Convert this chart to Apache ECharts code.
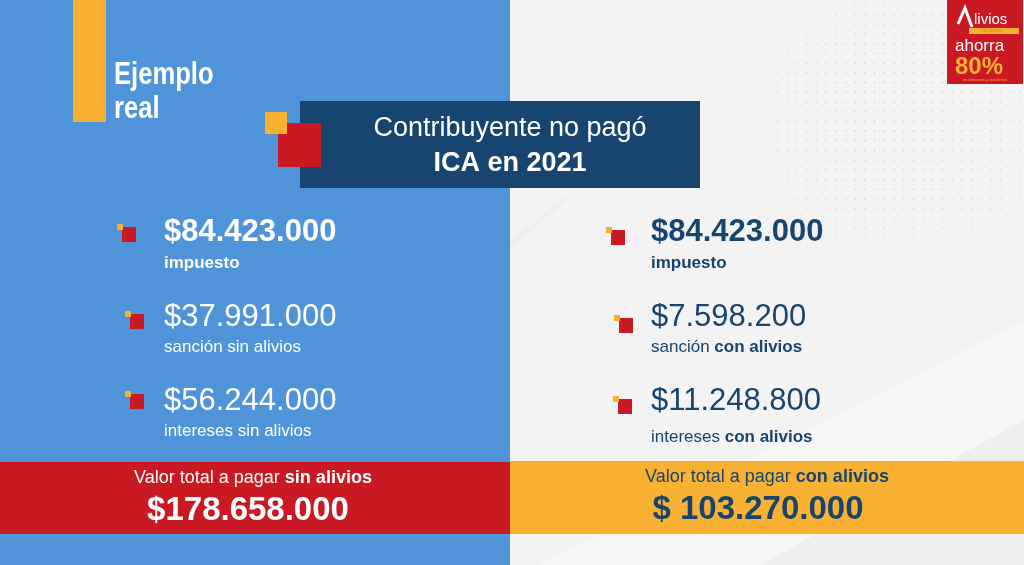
<!DOCTYPE html>
<html>
<head>
<meta charset="utf-8">
<style>html,body{margin:0;padding:0;background:#f2f2f2}#main{width:1024px;height:565px}</style>
<script src="https://cdn.jsdelivr.net/npm/echarts@6/dist/echarts.min.js"></script>
</head>
<body>
<div id="main"></div>
<script>
// textos y valores
var leftAmounts = ['$84.423.000', '$37.991.000', '$56.244.000']
var leftLabels = ['impuesto', 'sanción sin alivios', 'intereses sin alivios']
var rightAmounts = ['$84.423.000', '$7.598.200', '$11.248.800']
var rightPlain = ['', 'sanción ', 'intereses ']
var rightBold = ['impuesto', 'con alivios', 'con alivios']
var totals = ['$178.658.000', '$ 103.270.000']
var totalPlain = 'Valor total a pagar '
var totalBold = ['sin alivios', 'con alivios']
var titleLines = ['Contribuyente no pagó', 'ICA en 2021']
var sideTitle = ['Ejemplo', 'real']
var logoTexts = ['livios', 'tributarios', 'ahorra', '80%', 'en intereses y sanciones']

var BLUE = '#4f94d8'
var NAVY = '#17456f'
var RED = '#c91a24'
var YELLOW = '#f8b133'
var FONT = '"Liberation Sans", Arial, sans-serif'

function rect (x, y, w, h, fill, z) {
  return { type: 'rect', shape: { x: x, y: y, width: w, height: h }, style: { fill: fill }, z: z || 1 }
}
function text (str, x, y, size, fill, bold, align, opts) {
  var el = {
    type: 'text',
    x: x,
    y: y,
    z: 5,
    style: {
      text: str,
      fill: fill,
      font: (bold ? 'bold ' : '') + size + 'px ' + FONT,
      textAlign: align || 'left',
      textVerticalAlign: 'middle'
    }
  }
  return Object.assign(el, opts || {})
}
// dos tramos de texto con distinto peso, centrados o no
function mixed (plain, bold, x, y, size, fill, align, scaleX) {
  return {
    type: 'text',
    x: x,
    y: y,
    z: 5,
    scaleX: scaleX || 1,
    style: {
      text: (plain ? '{a|' + plain + '}' : '') + '{b|' + bold + '}',
      textAlign: align || 'left',
      textVerticalAlign: 'middle',
      rich: {
        a: { font: size + 'px ' + FONT, fill: fill },
        b: { font: 'bold ' + size + 'px ' + FONT, fill: fill }
      }
    }
  }
}
function bullet (x, y) {
  return [rect(x + 5, y + 3, 14, 15, RED, 3), rect(x, y, 6, 6, YELLOW, 4)]
}

var els = []

// fondos
els.push(rect(0, 0, 510, 565, BLUE))
els.push(rect(510, 0, 514, 565, '#f3f3f3'))

// pliegues del fondo derecho
els.push({ type: 'polygon', shape: { points: [[510, 250], [580, 188], [578, 188], [510, 240]] }, style: { fill: '#ebebeb', opacity: 0.6 }, z: 1 })
els.push({ type: 'polygon', shape: { points: [[540, 565], [1024, 320], [1024, 420], [760, 565]] }, style: { fill: '#f7f7f7' }, z: 1 })
els.push({ type: 'polygon', shape: { points: [[760, 565], [1024, 420], [1024, 565]] }, style: { fill: '#efefef' }, z: 1 })

// trama de puntos
for (var px = 700; px < 1024; px += 9.7) {
  for (var py = 5; py < 330; py += 9.7) {
    var dx = (px - 900) / 220
    var dy = (py - 120) / 190
    var a = 0.9 - (dx * dx + dy * dy)
    if (a > 0.05) {
      els.push({ type: 'circle', shape: { cx: px, cy: py, r: 1 }, style: { fill: '#cfcfcf', opacity: a * 0.8 }, z: 1, silent: true })
    }
  }
}

// barra lateral y titulo
els.push(rect(73, 0, 33, 122, YELLOW, 2))
els.push(text(sideTitle[0], 114, 75, 32, '#fff', true, 'left', { scaleX: 0.8 }))
els.push(text(sideTitle[1], 114, 109, 32, '#fff', true, 'left', { scaleX: 0.8 }))

// caja central
els.push(rect(300, 101, 400, 87, NAVY, 2))
els.push(rect(278, 123, 43, 44, RED, 3))
els.push(rect(265, 112, 22, 22, YELLOW, 4))
els.push(text(titleLines[0], 510, 129, 27, '#fff', false, 'center'))
els.push(text(titleLines[1], 510, 164, 27, '#fff', true, 'center'))

// columna izquierda
var leftBullets = [[117, 224], [125, 311], [125, 391]]
var amountY = [232, 317, 401]
var leftLabelY = [263, 347, 431]
leftAmounts.forEach(function (v, i) {
  els.push(text(v, 164, amountY[i], 31, '#fff', i === 0))
  els.push(text(leftLabels[i], 164, leftLabelY[i], 17, '#fff', i === 0))
  els = els.concat(bullet(leftBullets[i][0], leftBullets[i][1]))
})

// columna derecha
var rightBullets = [[606, 227], [614, 315], [613, 396]]
var rightLabelY = [263, 347, 437]
rightAmounts.forEach(function (v, i) {
  els.push(text(v, 651, amountY[i], 31, NAVY, i === 0))
  els.push(mixed(rightPlain[i], rightBold[i], 651, rightLabelY[i], 17, NAVY))
  els = els.concat(bullet(rightBullets[i][0], rightBullets[i][1]))
})

// franjas de total
els.push(rect(0, 462, 510, 72, RED, 2))
els.push(rect(510, 461, 514, 73, YELLOW, 2))
els.push(mixed(totalPlain, totalBold[0], 253, 478, 18, '#fff', 'center'))
els.push(mixed(totalPlain, totalBold[1], 767, 477, 18, NAVY, 'center'))
els.push(text(totals[0], 248, 511, 33, '#fff', true, 'center'))
els.push(text(totals[1], 758, 510, 33, NAVY, true, 'center'))

// sello superior derecho
els.push(rect(947, 0, 76, 84, RED, 3))
els.push({ type: 'polyline', shape: { points: [[958, 24], [965, 8], [972, 27]] }, style: { stroke: '#fff', lineWidth: 3, fill: 'none' }, z: 5 })
els.push(text(logoTexts[0], 974, 20, 15, '#fff'))
els.push(rect(969, 28, 50, 6, YELLOW, 4))
els.push(text(logoTexts[1], 981, 31, 5, '#c98a20'))
els.push(text(logoTexts[2], 955, 46, 17, '#fff'))
els.push(text(logoTexts[3], 955, 67, 24, YELLOW, true))
els.push(text(logoTexts[4], 985, 80, 4, YELLOW, false, 'center'))

var myChart = echarts.init(document.getElementById('main'), null, { renderer: 'canvas' })
myChart.setOption({
  animation: false,
  backgroundColor: '#f3f3f3',
  graphic: { elements: els }
})
</script>
</body>
</html>
